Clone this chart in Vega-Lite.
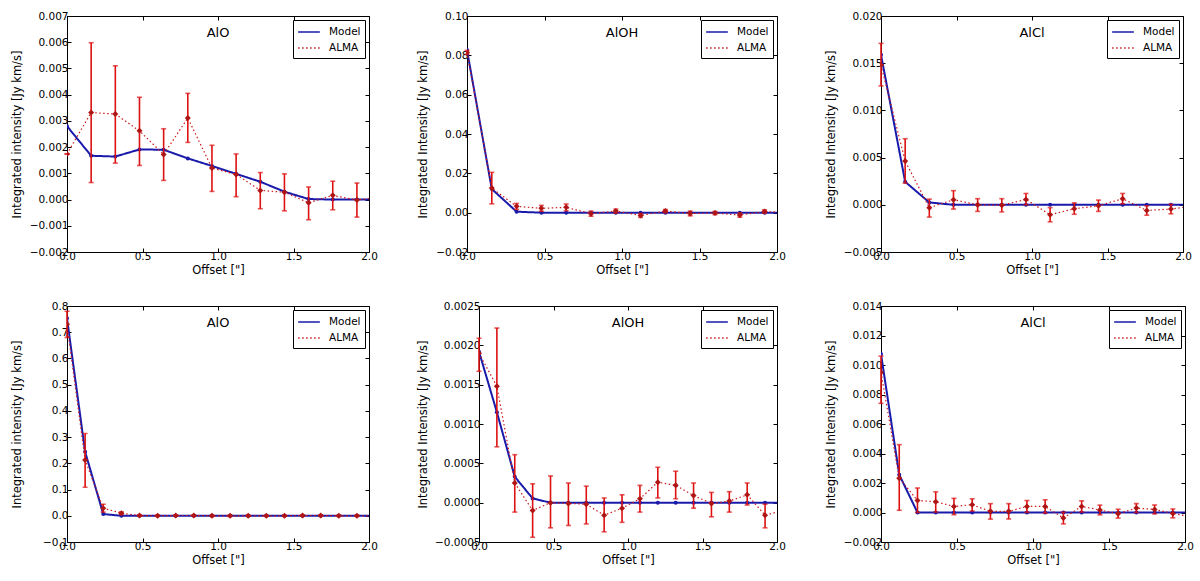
{
  "$schema": "https://vega.github.io/schema/vega-lite/v6.json",
  "background": "white",
  "padding": {"left": 10, "top": 10, "right": 0, "bottom": 0},
  "datasets": {
    "p1": [
      {"s": "Model", "x": 0, "y": 0.0028}, {"s": "Model", "x": 0.16, "y": 0.00167}, {"s": "Model", "x": 0.32, "y": 0.00164},
      {"s": "Model", "x": 0.48, "y": 0.00191}, {"s": "Model", "x": 0.64, "y": 0.0019}, {"s": "Model", "x": 0.8, "y": 0.00157},
      {"s": "Model", "x": 0.96, "y": 0.00128}, {"s": "Model", "x": 1.12, "y": 0.00098}, {"s": "Model", "x": 1.28, "y": 0.00068},
      {"s": "Model", "x": 1.44, "y": 0.0003}, {"s": "Model", "x": 1.6, "y": 0.00002}, {"s": "Model", "x": 1.76, "y": 0},
      {"s": "Model", "x": 1.92, "y": 0}, {"s": "Model", "x": 2.08, "y": 0},
      {"s": "ALMA", "x": 0, "y": 0.00174, "lo": 0.00174, "hi": 0.00174},
      {"s": "ALMA", "x": 0.16, "y": 0.00332, "lo": 0.00065, "hi": 0.00598},
      {"s": "ALMA", "x": 0.32, "y": 0.00326, "lo": 0.00139, "hi": 0.0051},
      {"s": "ALMA", "x": 0.48, "y": 0.00262, "lo": 0.0013, "hi": 0.0039},
      {"s": "ALMA", "x": 0.64, "y": 0.00172, "lo": 0.00073, "hi": 0.0027},
      {"s": "ALMA", "x": 0.8, "y": 0.00311, "lo": 0.00218, "hi": 0.00405},
      {"s": "ALMA", "x": 0.96, "y": 0.0012, "lo": 0.00031, "hi": 0.00207},
      {"s": "ALMA", "x": 1.12, "y": 0.00096, "lo": 0.00011, "hi": 0.00174},
      {"s": "ALMA", "x": 1.28, "y": 0.00035, "lo": -0.00035, "hi": 0.00103},
      {"s": "ALMA", "x": 1.44, "y": 0.00028, "lo": -0.00043, "hi": 0.00098},
      {"s": "ALMA", "x": 1.6, "y": -0.00012, "lo": -0.00077, "hi": 0.00048},
      {"s": "ALMA", "x": 1.76, "y": 0.00016, "lo": -0.00039, "hi": 0.0007},
      {"s": "ALMA", "x": 1.92, "y": -0.00002, "lo": -0.00067, "hi": 0.00063},
      {"s": "ALMA", "x": 2.08, "y": 0.0001}
    ],
    "p2": [
      {"s": "Model", "x": 0, "y": 0.0827}, {"s": "Model", "x": 0.16, "y": 0.012}, {"s": "Model", "x": 0.32, "y": 0.0005},
      {"s": "Model", "x": 0.48, "y": 0}, {"s": "Model", "x": 0.64, "y": 0}, {"s": "Model", "x": 0.8, "y": 0},
      {"s": "Model", "x": 0.96, "y": 0}, {"s": "Model", "x": 1.12, "y": 0}, {"s": "Model", "x": 1.28, "y": 0},
      {"s": "Model", "x": 1.44, "y": 0}, {"s": "Model", "x": 1.6, "y": 0}, {"s": "Model", "x": 1.76, "y": 0},
      {"s": "Model", "x": 1.92, "y": 0}, {"s": "Model", "x": 2.08, "y": 0},
      {"s": "ALMA", "x": 0, "y": 0.0815, "lo": 0.0805, "hi": 0.0825},
      {"s": "ALMA", "x": 0.16, "y": 0.0125, "lo": 0.0045, "hi": 0.0205},
      {"s": "ALMA", "x": 0.32, "y": 0.0032, "lo": 0.0017, "hi": 0.0047},
      {"s": "ALMA", "x": 0.48, "y": 0.0022, "lo": 0.0007, "hi": 0.0037},
      {"s": "ALMA", "x": 0.64, "y": 0.0027, "lo": 0.001, "hi": 0.0044},
      {"s": "ALMA", "x": 0.8, "y": -0.0005, "lo": -0.0018, "hi": 0.0008},
      {"s": "ALMA", "x": 0.96, "y": 0.0008, "lo": -0.0002, "hi": 0.0018},
      {"s": "ALMA", "x": 1.12, "y": -0.0014, "lo": -0.0024, "hi": -0.0004},
      {"s": "ALMA", "x": 1.28, "y": 0.0008, "lo": 0, "hi": 0.0016},
      {"s": "ALMA", "x": 1.44, "y": -0.0004, "lo": -0.0016, "hi": 0.0008},
      {"s": "ALMA", "x": 1.6, "y": -0.0002, "lo": -0.001, "hi": 0.0006},
      {"s": "ALMA", "x": 1.76, "y": -0.0012, "lo": -0.0023, "hi": -0.0001},
      {"s": "ALMA", "x": 1.92, "y": 0.0006, "lo": -0.0002, "hi": 0.0014},
      {"s": "ALMA", "x": 2.08, "y": 0}
    ],
    "p3": [
      {"s": "Model", "x": 0, "y": 0.0159}, {"s": "Model", "x": 0.16, "y": 0.00244}, {"s": "Model", "x": 0.32, "y": 0.00025},
      {"s": "Model", "x": 0.48, "y": 0}, {"s": "Model", "x": 0.64, "y": 0}, {"s": "Model", "x": 0.8, "y": 0},
      {"s": "Model", "x": 0.96, "y": 0}, {"s": "Model", "x": 1.12, "y": 0}, {"s": "Model", "x": 1.28, "y": 0},
      {"s": "Model", "x": 1.44, "y": 0}, {"s": "Model", "x": 1.6, "y": 0}, {"s": "Model", "x": 1.76, "y": 0},
      {"s": "Model", "x": 1.92, "y": 0}, {"s": "Model", "x": 2.08, "y": 0},
      {"s": "ALMA", "x": 0, "y": 0.0148, "lo": 0.0126, "hi": 0.0171},
      {"s": "ALMA", "x": 0.16, "y": 0.00463, "lo": 0.0023, "hi": 0.007},
      {"s": "ALMA", "x": 0.32, "y": -0.0003, "lo": -0.0013, "hi": 0.0006},
      {"s": "ALMA", "x": 0.48, "y": 0.00054, "lo": -0.00045, "hi": 0.0015},
      {"s": "ALMA", "x": 0.64, "y": 0, "lo": -0.0007, "hi": 0.00065},
      {"s": "ALMA", "x": 0.8, "y": -0.00005, "lo": -0.00075, "hi": 0.00065},
      {"s": "ALMA", "x": 0.96, "y": 0.00057, "lo": 0, "hi": 0.0012},
      {"s": "ALMA", "x": 1.12, "y": -0.00105, "lo": -0.0018, "hi": -0.0003},
      {"s": "ALMA", "x": 1.28, "y": -0.00042, "lo": -0.001, "hi": 0.0002},
      {"s": "ALMA", "x": 1.44, "y": -0.0001, "lo": -0.0007, "hi": 0.0005},
      {"s": "ALMA", "x": 1.6, "y": 0.00064, "lo": 0.0001, "hi": 0.0012},
      {"s": "ALMA", "x": 1.76, "y": -0.0006, "lo": -0.0011, "hi": -0.0001},
      {"s": "ALMA", "x": 1.92, "y": -0.00045, "lo": -0.00095, "hi": 0.00005},
      {"s": "ALMA", "x": 2.08, "y": -0.0001}
    ],
    "p4": [
      {"s": "Model", "x": 0, "y": 0.753}, {"s": "Model", "x": 0.12, "y": 0.244}, {"s": "Model", "x": 0.24, "y": 0.0066},
      {"s": "Model", "x": 0.36, "y": 0}, {"s": "Model", "x": 0.48, "y": 0}, {"s": "Model", "x": 0.6, "y": 0},
      {"s": "Model", "x": 0.72, "y": 0}, {"s": "Model", "x": 0.84, "y": 0}, {"s": "Model", "x": 0.96, "y": 0},
      {"s": "Model", "x": 1.08, "y": 0}, {"s": "Model", "x": 1.2, "y": 0}, {"s": "Model", "x": 1.32, "y": 0},
      {"s": "Model", "x": 1.44, "y": 0}, {"s": "Model", "x": 1.56, "y": 0}, {"s": "Model", "x": 1.68, "y": 0},
      {"s": "Model", "x": 1.8, "y": 0}, {"s": "Model", "x": 1.92, "y": 0}, {"s": "Model", "x": 2.04, "y": 0},
      {"s": "ALMA", "x": 0, "y": 0.73, "lo": 0.68, "hi": 0.78},
      {"s": "ALMA", "x": 0.12, "y": 0.213, "lo": 0.109, "hi": 0.314},
      {"s": "ALMA", "x": 0.24, "y": 0.029, "lo": 0.014, "hi": 0.044},
      {"s": "ALMA", "x": 0.36, "y": 0.01, "lo": 0.005, "hi": 0.015},
      {"s": "ALMA", "x": 0.48, "y": 0.001, "lo": -0.001, "hi": 0.003},
      {"s": "ALMA", "x": 0.6, "y": 0, "lo": -0.002, "hi": 0.002},
      {"s": "ALMA", "x": 0.72, "y": 0.001, "lo": -0.001, "hi": 0.003},
      {"s": "ALMA", "x": 0.84, "y": 0.001, "lo": -0.001, "hi": 0.003},
      {"s": "ALMA", "x": 0.96, "y": 0, "lo": -0.002, "hi": 0.002},
      {"s": "ALMA", "x": 1.08, "y": 0, "lo": -0.002, "hi": 0.002},
      {"s": "ALMA", "x": 1.2, "y": 0, "lo": -0.002, "hi": 0.002},
      {"s": "ALMA", "x": 1.32, "y": 0, "lo": -0.002, "hi": 0.002},
      {"s": "ALMA", "x": 1.44, "y": 0, "lo": -0.002, "hi": 0.002},
      {"s": "ALMA", "x": 1.56, "y": 0.001, "lo": -0.001, "hi": 0.003},
      {"s": "ALMA", "x": 1.68, "y": 0.001, "lo": -0.001, "hi": 0.003},
      {"s": "ALMA", "x": 1.8, "y": 0, "lo": -0.002, "hi": 0.002},
      {"s": "ALMA", "x": 1.92, "y": 0, "lo": -0.002, "hi": 0.002},
      {"s": "ALMA", "x": 2.04, "y": 0}
    ],
    "p5": [
      {"s": "Model", "x": 0, "y": 0.00192}, {"s": "Model", "x": 0.12, "y": 0.00115}, {"s": "Model", "x": 0.24, "y": 0.00033},
      {"s": "Model", "x": 0.36, "y": 0.000054}, {"s": "Model", "x": 0.48, "y": 0}, {"s": "Model", "x": 0.6, "y": 0},
      {"s": "Model", "x": 0.72, "y": 0}, {"s": "Model", "x": 0.84, "y": 0}, {"s": "Model", "x": 0.96, "y": 0},
      {"s": "Model", "x": 1.08, "y": 0}, {"s": "Model", "x": 1.2, "y": 0}, {"s": "Model", "x": 1.32, "y": 0},
      {"s": "Model", "x": 1.44, "y": 0}, {"s": "Model", "x": 1.56, "y": 0}, {"s": "Model", "x": 1.68, "y": 0},
      {"s": "Model", "x": 1.8, "y": 0}, {"s": "Model", "x": 1.92, "y": 0}, {"s": "Model", "x": 2.04, "y": 0},
      {"s": "ALMA", "x": 0, "y": 0.0019, "lo": 0.00167, "hi": 0.00209},
      {"s": "ALMA", "x": 0.12, "y": 0.00148, "lo": 0.00071, "hi": 0.00222},
      {"s": "ALMA", "x": 0.24, "y": 0.00025, "lo": -0.00012, "hi": 0.00061},
      {"s": "ALMA", "x": 0.36, "y": -0.0001, "lo": -0.00044, "hi": 0.00024},
      {"s": "ALMA", "x": 0.48, "y": 0, "lo": -0.00032, "hi": 0.00034},
      {"s": "ALMA", "x": 0.6, "y": -0.00001, "lo": -0.00029, "hi": 0.00025},
      {"s": "ALMA", "x": 0.72, "y": -0.00002, "lo": -0.00027, "hi": 0.00021},
      {"s": "ALMA", "x": 0.84, "y": -0.00016, "lo": -0.00037, "hi": 0.00006},
      {"s": "ALMA", "x": 0.96, "y": -0.00007, "lo": -0.00025, "hi": 0.0001},
      {"s": "ALMA", "x": 1.08, "y": 0.00005, "lo": -0.00012, "hi": 0.00022},
      {"s": "ALMA", "x": 1.2, "y": 0.00026, "lo": 0.00006, "hi": 0.00045},
      {"s": "ALMA", "x": 1.32, "y": 0.00022, "lo": 0.00005, "hi": 0.0004},
      {"s": "ALMA", "x": 1.44, "y": 0.00009, "lo": -0.00007, "hi": 0.00025},
      {"s": "ALMA", "x": 1.56, "y": -0.00001, "lo": -0.00018, "hi": 0.00013},
      {"s": "ALMA", "x": 1.68, "y": 0.00002, "lo": -0.00012, "hi": 0.00014},
      {"s": "ALMA", "x": 1.8, "y": 0.0001, "lo": -0.00003, "hi": 0.00025},
      {"s": "ALMA", "x": 1.92, "y": -0.00016, "lo": -0.00032, "hi": -0.00002},
      {"s": "ALMA", "x": 2.04, "y": -0.0001}
    ],
    "p6": [
      {"s": "Model", "x": 0, "y": 0.01075}, {"s": "Model", "x": 0.12, "y": 0.00256}, {"s": "Model", "x": 0.24, "y": 0},
      {"s": "Model", "x": 0.36, "y": 0}, {"s": "Model", "x": 0.48, "y": 0}, {"s": "Model", "x": 0.6, "y": 0},
      {"s": "Model", "x": 0.72, "y": 0}, {"s": "Model", "x": 0.84, "y": 0}, {"s": "Model", "x": 0.96, "y": 0},
      {"s": "Model", "x": 1.08, "y": 0}, {"s": "Model", "x": 1.2, "y": 0}, {"s": "Model", "x": 1.32, "y": 0},
      {"s": "Model", "x": 1.44, "y": 0}, {"s": "Model", "x": 1.56, "y": 0}, {"s": "Model", "x": 1.68, "y": 0},
      {"s": "Model", "x": 1.8, "y": 0}, {"s": "Model", "x": 1.92, "y": 0}, {"s": "Model", "x": 2.04, "y": 0},
      {"s": "ALMA", "x": 0, "y": 0.0095, "lo": 0.0074, "hi": 0.0106},
      {"s": "ALMA", "x": 0.12, "y": 0.00233, "lo": 0.00015, "hi": 0.0046},
      {"s": "ALMA", "x": 0.24, "y": 0.00082, "lo": 0, "hi": 0.00166},
      {"s": "ALMA", "x": 0.36, "y": 0.00073, "lo": 0.00003, "hi": 0.0014},
      {"s": "ALMA", "x": 0.48, "y": 0.00041, "lo": -0.00015, "hi": 0.00096},
      {"s": "ALMA", "x": 0.6, "y": 0.00053, "lo": 0.0001, "hi": 0.00093},
      {"s": "ALMA", "x": 0.72, "y": 0.00008, "lo": -0.00045, "hi": 0.0006},
      {"s": "ALMA", "x": 0.84, "y": 0.00008, "lo": -0.00044, "hi": 0.0006},
      {"s": "ALMA", "x": 0.96, "y": 0.00041, "lo": 0.00001, "hi": 0.00081},
      {"s": "ALMA", "x": 1.08, "y": 0.00041, "lo": -0.00004, "hi": 0.00086},
      {"s": "ALMA", "x": 1.2, "y": -0.00037, "lo": -0.00077, "hi": 0.00003},
      {"s": "ALMA", "x": 1.32, "y": 0.00041, "lo": 0.00003, "hi": 0.00079},
      {"s": "ALMA", "x": 1.44, "y": 0.00017, "lo": -0.00016, "hi": 0.0005},
      {"s": "ALMA", "x": 1.56, "y": -0.00008, "lo": -0.00038, "hi": 0.00022},
      {"s": "ALMA", "x": 1.68, "y": 0.0003, "lo": 0, "hi": 0.0006},
      {"s": "ALMA", "x": 1.8, "y": 0.00021, "lo": -0.00009, "hi": 0.00051},
      {"s": "ALMA", "x": 1.92, "y": -0.00006, "lo": -0.00036, "hi": 0.00024},
      {"s": "ALMA", "x": 2.04, "y": -0.0003}
    ]
  },
  "vconcat": [
    {
      "hconcat": [
        {
          "width": 302, "height": 236,
          "data": {"name": "p1"},
          "title": {"text": "AlO"},
          "layer": [
            {"transform": [{"filter": "datum.s == 'Model'"}],
             "mark": {"type": "line", "clip": true, "strokeWidth": 2, "point": {"filled": true, "size": 16, "clip": true}},
             "encoding": {
               "x": {"field": "x", "type": "quantitative", "scale": {"domain": [0, 2], "nice": false}, "axis": {"values": [0, 0.5, 1, 1.5, 2], "format": ".1f", "title": "Offset [\"]"}},
               "y": {"field": "y", "type": "quantitative", "scale": {"domain": [-0.002, 0.007], "nice": false, "zero": false}, "axis": {"values": [-0.002, -0.001, 0, 0.001, 0.002, 0.003, 0.004, 0.005, 0.006, 0.007], "format": ".3f", "title": "Integrated intensity [Jy km/s]", "titleX": -45}},
               "color": {"field": "s", "type": "nominal", "scale": {"domain": ["Model", "ALMA"], "range": ["#1a1aaa", "#cc1a1a"]}, "legend": {"title": null}},
               "strokeDash": {"field": "s", "type": "nominal", "scale": {"domain": ["Model", "ALMA"], "range": [[1, 0], [1.5, 2.5]]}, "legend": {"title": null}}
             }},
            {"transform": [{"filter": "datum.s == 'ALMA'"}],
             "mark": {"type": "line", "clip": true, "strokeWidth": 1.2},
             "encoding": {
               "x": {"field": "x", "type": "quantitative", "axis": {"orient": "top", "values": [0, 0.5, 1, 1.5, 2], "labels": false, "title": null, "domain": false}},
               "y": {"field": "y", "type": "quantitative", "axis": {"orient": "right", "values": [-0.002, -0.001, 0, 0.001, 0.002, 0.003, 0.004, 0.005, 0.006, 0.007], "labels": false, "title": null, "domain": false}},
               "color": {"field": "s", "type": "nominal", "legend": {"title": null}},
               "strokeDash": {"field": "s", "type": "nominal", "legend": {"title": null}}
             }},
            {"transform": [{"filter": "datum.s == 'ALMA' && datum.x <= 2"}],
             "mark": {"type": "errorbar", "ticks": {"size": 5}, "thickness": 1.6, "color": "#dd1111"},
             "encoding": {"x": {"field": "x", "type": "quantitative", "axis": null}, "y": {"field": "lo", "type": "quantitative", "axis": null}, "y2": {"field": "hi"}}},
            {"transform": [{"filter": "datum.s == 'ALMA'"}],
             "mark": {"type": "point", "shape": "diamond", "filled": true, "size": 36, "color": "#b01515", "opacity": 1, "clip": true},
             "encoding": {"x": {"field": "x", "type": "quantitative", "axis": null}, "y": {"field": "y", "type": "quantitative", "axis": null}}}
          ],
          "resolve": {"axis": {"x": "independent", "y": "independent"}}
        },
        {
          "width": 310, "height": 236,
          "data": {"name": "p2"},
          "title": {"text": "AlOH"},
          "layer": [
            {"transform": [{"filter": "datum.s == 'Model'"}],
             "mark": {"type": "line", "clip": true, "strokeWidth": 2, "point": {"filled": true, "size": 16, "clip": true}},
             "encoding": {
               "x": {"field": "x", "type": "quantitative", "scale": {"domain": [0, 2], "nice": false}, "axis": {"values": [0, 0.5, 1, 1.5, 2], "format": ".1f", "title": "Offset [\"]"}},
               "y": {"field": "y", "type": "quantitative", "scale": {"domain": [-0.02, 0.1], "nice": false, "zero": false}, "axis": {"values": [-0.02, 0, 0.02, 0.04, 0.06, 0.08, 0.1], "format": ".2f", "title": "Integrated Intensity [Jy km/s]", "titleX": -39}},
               "color": {"field": "s", "type": "nominal", "scale": {"domain": ["Model", "ALMA"], "range": ["#1a1aaa", "#cc1a1a"]}, "legend": {"title": null}},
               "strokeDash": {"field": "s", "type": "nominal", "scale": {"domain": ["Model", "ALMA"], "range": [[1, 0], [1.5, 2.5]]}, "legend": {"title": null}}
             }},
            {"transform": [{"filter": "datum.s == 'ALMA'"}],
             "mark": {"type": "line", "clip": true, "strokeWidth": 1.2},
             "encoding": {
               "x": {"field": "x", "type": "quantitative", "axis": {"orient": "top", "values": [0, 0.5, 1, 1.5, 2], "labels": false, "title": null, "domain": false}},
               "y": {"field": "y", "type": "quantitative", "axis": {"orient": "right", "values": [-0.02, 0, 0.02, 0.04, 0.06, 0.08, 0.1], "labels": false, "title": null, "domain": false}},
               "color": {"field": "s", "type": "nominal", "legend": {"title": null}},
               "strokeDash": {"field": "s", "type": "nominal", "legend": {"title": null}}
             }},
            {"transform": [{"filter": "datum.s == 'ALMA' && datum.x <= 2"}],
             "mark": {"type": "errorbar", "ticks": {"size": 5}, "thickness": 1.6, "color": "#dd1111"},
             "encoding": {"x": {"field": "x", "type": "quantitative", "axis": null}, "y": {"field": "lo", "type": "quantitative", "axis": null}, "y2": {"field": "hi"}}},
            {"transform": [{"filter": "datum.s == 'ALMA'"}],
             "mark": {"type": "point", "shape": "diamond", "filled": true, "size": 36, "color": "#b01515", "opacity": 1, "clip": true},
             "encoding": {"x": {"field": "x", "type": "quantitative", "axis": null}, "y": {"field": "y", "type": "quantitative", "axis": null}}}
          ],
          "resolve": {"axis": {"x": "independent", "y": "independent"}}
        },
        {
          "width": 302, "height": 236,
          "data": {"name": "p3"},
          "title": {"text": "AlCl"},
          "layer": [
            {"transform": [{"filter": "datum.s == 'Model'"}],
             "mark": {"type": "line", "clip": true, "strokeWidth": 2, "point": {"filled": true, "size": 16, "clip": true}},
             "encoding": {
               "x": {"field": "x", "type": "quantitative", "scale": {"domain": [0, 2], "nice": false}, "axis": {"values": [0, 0.5, 1, 1.5, 2], "format": ".1f", "title": "Offset [\"]"}},
               "y": {"field": "y", "type": "quantitative", "scale": {"domain": [-0.005, 0.02], "nice": false, "zero": false}, "axis": {"values": [-0.005, 0, 0.005, 0.01, 0.015, 0.02], "format": ".3f", "title": "Integrated Intensity [Jy km/s]", "titleX": -45}},
               "color": {"field": "s", "type": "nominal", "scale": {"domain": ["Model", "ALMA"], "range": ["#1a1aaa", "#cc1a1a"]}, "legend": {"title": null}},
               "strokeDash": {"field": "s", "type": "nominal", "scale": {"domain": ["Model", "ALMA"], "range": [[1, 0], [1.5, 2.5]]}, "legend": {"title": null}}
             }},
            {"transform": [{"filter": "datum.s == 'ALMA'"}],
             "mark": {"type": "line", "clip": true, "strokeWidth": 1.2},
             "encoding": {
               "x": {"field": "x", "type": "quantitative", "axis": {"orient": "top", "values": [0, 0.5, 1, 1.5, 2], "labels": false, "title": null, "domain": false}},
               "y": {"field": "y", "type": "quantitative", "axis": {"orient": "right", "values": [-0.005, 0, 0.005, 0.01, 0.015, 0.02], "labels": false, "title": null, "domain": false}},
               "color": {"field": "s", "type": "nominal", "legend": {"title": null}},
               "strokeDash": {"field": "s", "type": "nominal", "legend": {"title": null}}
             }},
            {"transform": [{"filter": "datum.s == 'ALMA' && datum.x <= 2"}],
             "mark": {"type": "errorbar", "ticks": {"size": 5}, "thickness": 1.6, "color": "#dd1111"},
             "encoding": {"x": {"field": "x", "type": "quantitative", "axis": null}, "y": {"field": "lo", "type": "quantitative", "axis": null}, "y2": {"field": "hi"}}},
            {"transform": [{"filter": "datum.s == 'ALMA'"}],
             "mark": {"type": "point", "shape": "diamond", "filled": true, "size": 36, "color": "#b01515", "opacity": 1, "clip": true},
             "encoding": {"x": {"field": "x", "type": "quantitative", "axis": null}, "y": {"field": "y", "type": "quantitative", "axis": null}}}
          ],
          "resolve": {"axis": {"x": "independent", "y": "independent"}}
        }
      ],
      "spacing": 38,
      "resolve": {"scale": {"color": "independent", "strokeDash": "independent"}, "legend": {"color": "independent", "strokeDash": "independent"}}
    },
    {
      "hconcat": [
        {
          "width": 302, "height": 236,
          "data": {"name": "p4"},
          "title": {"text": "AlO"},
          "layer": [
            {"transform": [{"filter": "datum.s == 'Model'"}],
             "mark": {"type": "line", "clip": true, "strokeWidth": 2, "point": {"filled": true, "size": 16, "clip": true}},
             "encoding": {
               "x": {"field": "x", "type": "quantitative", "scale": {"domain": [0, 2], "nice": false}, "axis": {"values": [0, 0.5, 1, 1.5, 2], "format": ".1f", "title": "Offset [\"]"}},
               "y": {"field": "y", "type": "quantitative", "scale": {"domain": [-0.1, 0.8], "nice": false, "zero": false}, "axis": {"values": [-0.1, 0, 0.1, 0.2, 0.3, 0.4, 0.5, 0.6, 0.7, 0.8], "format": ".1f", "title": "Integrated intensity [Jy km/s]", "titleX": -45}},
               "color": {"field": "s", "type": "nominal", "scale": {"domain": ["Model", "ALMA"], "range": ["#1a1aaa", "#cc1a1a"]}, "legend": {"title": null}},
               "strokeDash": {"field": "s", "type": "nominal", "scale": {"domain": ["Model", "ALMA"], "range": [[1, 0], [1.5, 2.5]]}, "legend": {"title": null}}
             }},
            {"transform": [{"filter": "datum.s == 'ALMA'"}],
             "mark": {"type": "line", "clip": true, "strokeWidth": 1.2},
             "encoding": {
               "x": {"field": "x", "type": "quantitative", "axis": {"orient": "top", "values": [0, 0.5, 1, 1.5, 2], "labels": false, "title": null, "domain": false}},
               "y": {"field": "y", "type": "quantitative", "axis": {"orient": "right", "values": [-0.1, 0, 0.1, 0.2, 0.3, 0.4, 0.5, 0.6, 0.7, 0.8], "labels": false, "title": null, "domain": false}},
               "color": {"field": "s", "type": "nominal", "legend": {"title": null}},
               "strokeDash": {"field": "s", "type": "nominal", "legend": {"title": null}}
             }},
            {"transform": [{"filter": "datum.s == 'ALMA' && datum.x <= 2"}],
             "mark": {"type": "errorbar", "ticks": {"size": 5}, "thickness": 1.6, "color": "#dd1111"},
             "encoding": {"x": {"field": "x", "type": "quantitative", "axis": null}, "y": {"field": "lo", "type": "quantitative", "axis": null}, "y2": {"field": "hi"}}},
            {"transform": [{"filter": "datum.s == 'ALMA'"}],
             "mark": {"type": "point", "shape": "diamond", "filled": true, "size": 36, "color": "#b01515", "opacity": 1, "clip": true},
             "encoding": {"x": {"field": "x", "type": "quantitative", "axis": null}, "y": {"field": "y", "type": "quantitative", "axis": null}}}
          ],
          "resolve": {"axis": {"x": "independent", "y": "independent"}}
        },
        {
          "width": 298, "height": 236,
          "data": {"name": "p5"},
          "title": {"text": "AlOH"},
          "layer": [
            {"transform": [{"filter": "datum.s == 'Model'"}],
             "mark": {"type": "line", "clip": true, "strokeWidth": 2, "point": {"filled": true, "size": 16, "clip": true}},
             "encoding": {
               "x": {"field": "x", "type": "quantitative", "scale": {"domain": [0, 2], "nice": false}, "axis": {"values": [0, 0.5, 1, 1.5, 2], "format": ".1f", "title": "Offset [\"]"}},
               "y": {"field": "y", "type": "quantitative", "scale": {"domain": [-0.0005, 0.0025], "nice": false, "zero": false}, "axis": {"values": [-0.0005, 0, 0.0005, 0.001, 0.0015, 0.002, 0.0025], "format": ".4f", "title": "Integrated Intensity [Jy km/s]", "titleX": -51}},
               "color": {"field": "s", "type": "nominal", "scale": {"domain": ["Model", "ALMA"], "range": ["#1a1aaa", "#cc1a1a"]}, "legend": {"title": null}},
               "strokeDash": {"field": "s", "type": "nominal", "scale": {"domain": ["Model", "ALMA"], "range": [[1, 0], [1.5, 2.5]]}, "legend": {"title": null}}
             }},
            {"transform": [{"filter": "datum.s == 'ALMA'"}],
             "mark": {"type": "line", "clip": true, "strokeWidth": 1.2},
             "encoding": {
               "x": {"field": "x", "type": "quantitative", "axis": {"orient": "top", "values": [0, 0.5, 1, 1.5, 2], "labels": false, "title": null, "domain": false}},
               "y": {"field": "y", "type": "quantitative", "axis": {"orient": "right", "values": [-0.0005, 0, 0.0005, 0.001, 0.0015, 0.002, 0.0025], "labels": false, "title": null, "domain": false}},
               "color": {"field": "s", "type": "nominal", "legend": {"title": null}},
               "strokeDash": {"field": "s", "type": "nominal", "legend": {"title": null}}
             }},
            {"transform": [{"filter": "datum.s == 'ALMA' && datum.x <= 2"}],
             "mark": {"type": "errorbar", "ticks": {"size": 5}, "thickness": 1.6, "color": "#dd1111"},
             "encoding": {"x": {"field": "x", "type": "quantitative", "axis": null}, "y": {"field": "lo", "type": "quantitative", "axis": null}, "y2": {"field": "hi"}}},
            {"transform": [{"filter": "datum.s == 'ALMA'"}],
             "mark": {"type": "point", "shape": "diamond", "filled": true, "size": 36, "color": "#b01515", "opacity": 1, "clip": true},
             "encoding": {"x": {"field": "x", "type": "quantitative", "axis": null}, "y": {"field": "y", "type": "quantitative", "axis": null}}}
          ],
          "resolve": {"axis": {"x": "independent", "y": "independent"}}
        },
        {
          "width": 304, "height": 236,
          "data": {"name": "p6"},
          "title": {"text": "AlCl"},
          "layer": [
            {"transform": [{"filter": "datum.s == 'Model'"}],
             "mark": {"type": "line", "clip": true, "strokeWidth": 2, "point": {"filled": true, "size": 16, "clip": true}},
             "encoding": {
               "x": {"field": "x", "type": "quantitative", "scale": {"domain": [0, 2], "nice": false}, "axis": {"values": [0, 0.5, 1, 1.5, 2], "format": ".1f", "title": "Offset [\"]"}},
               "y": {"field": "y", "type": "quantitative", "scale": {"domain": [-0.002, 0.014], "nice": false, "zero": false}, "axis": {"values": [-0.002, 0, 0.002, 0.004, 0.006, 0.008, 0.01, 0.012, 0.014], "format": ".3f", "title": "Integrated Intensity [Jy km/s]", "titleX": -45}},
               "color": {"field": "s", "type": "nominal", "scale": {"domain": ["Model", "ALMA"], "range": ["#1a1aaa", "#cc1a1a"]}, "legend": {"title": null}},
               "strokeDash": {"field": "s", "type": "nominal", "scale": {"domain": ["Model", "ALMA"], "range": [[1, 0], [1.5, 2.5]]}, "legend": {"title": null}}
             }},
            {"transform": [{"filter": "datum.s == 'ALMA'"}],
             "mark": {"type": "line", "clip": true, "strokeWidth": 1.2},
             "encoding": {
               "x": {"field": "x", "type": "quantitative", "axis": {"orient": "top", "values": [0, 0.5, 1, 1.5, 2], "labels": false, "title": null, "domain": false}},
               "y": {"field": "y", "type": "quantitative", "axis": {"orient": "right", "values": [-0.002, 0, 0.002, 0.004, 0.006, 0.008, 0.01, 0.012, 0.014], "labels": false, "title": null, "domain": false}},
               "color": {"field": "s", "type": "nominal", "legend": {"title": null}},
               "strokeDash": {"field": "s", "type": "nominal", "legend": {"title": null}}
             }},
            {"transform": [{"filter": "datum.s == 'ALMA' && datum.x <= 2"}],
             "mark": {"type": "errorbar", "ticks": {"size": 5}, "thickness": 1.6, "color": "#dd1111"},
             "encoding": {"x": {"field": "x", "type": "quantitative", "axis": null}, "y": {"field": "lo", "type": "quantitative", "axis": null}, "y2": {"field": "hi"}}},
            {"transform": [{"filter": "datum.s == 'ALMA'"}],
             "mark": {"type": "point", "shape": "diamond", "filled": true, "size": 36, "color": "#b01515", "opacity": 1, "clip": true},
             "encoding": {"x": {"field": "x", "type": "quantitative", "axis": null}, "y": {"field": "y", "type": "quantitative", "axis": null}}}
          ],
          "resolve": {"axis": {"x": "independent", "y": "independent"}}
        }
      ],
      "spacing": 38,
      "resolve": {"scale": {"color": "independent", "strokeDash": "independent"}, "legend": {"color": "independent", "strokeDash": "independent"}}
    }
  ],
  "spacing": 23,
  "resolve": {"scale": {"color": "independent", "strokeDash": "independent"}, "legend": {"color": "independent", "strokeDash": "independent"}},
  "config": {
    "font": "DejaVu Sans",
    "view": {"stroke": "black", "strokeWidth": 1},
    "axis": {
      "labelFont": "DejaVu Sans", "labelFontSize": 10.5, "labelColor": "black",
      "titleFont": "DejaVu Sans", "titleFontSize": 11.5, "titleFontWeight": "normal", "titleColor": "black",
      "domainColor": "black", "tickColor": "black", "tickSize": -4, "labelPadding": 3, "titlePadding": 3,
      "grid": false, "labelFlush": false, "labelOverlap": false
    },
    "legend": {
      "orient": "top-right", "offset": 4, "strokeColor": "black", "fillColor": "white", "padding": 4,
      "labelFont": "DejaVu Sans", "labelFontSize": 10.5, "labelColor": "black",
      "symbolType": "M-1.55,0H1.55", "symbolSize": 196, "symbolOffset": 4, "symbolStrokeWidth": 1.5,
      "rowPadding": 2, "labelOffset": 12, "cornerRadius": 0
    },
    "title": {"font": "DejaVu Sans", "fontSize": 13, "fontWeight": "normal", "color": "black", "frame": "group", "anchor": "middle", "offset": -29}
  }
}
